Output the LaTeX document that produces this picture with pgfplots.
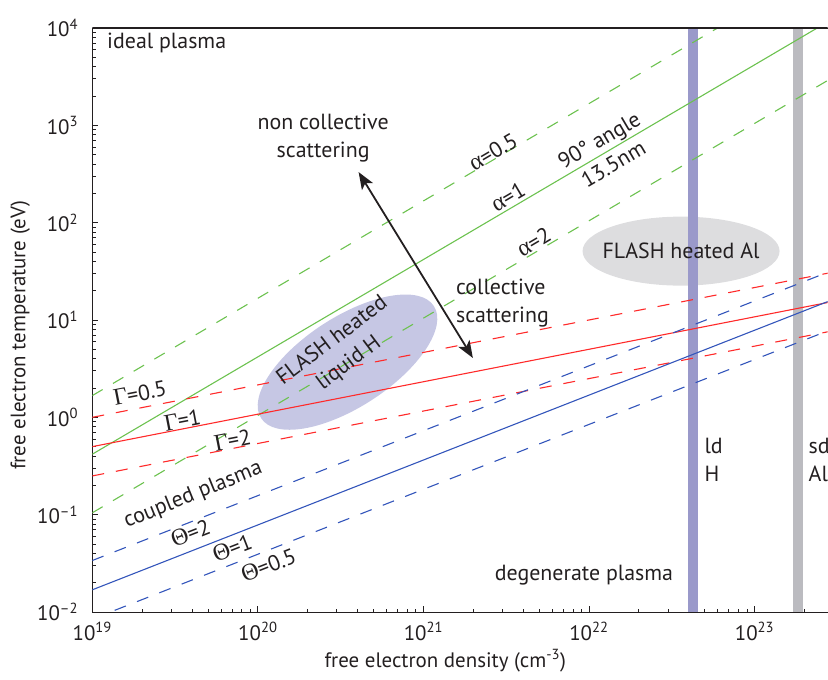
\documentclass[border=0pt]{standalone}
\usepackage{pgfplots}
\pgfplotsset{compat=1.18}
\usepackage{fontspec}
\setmainfont{PT Sans}
\newfontfamily\greekfont{Liberation Serif}
\usetikzlibrary{arrows.meta,shapes.geometric}
\definecolor{tx}{HTML}{231F20}
\definecolor{gr}{HTML}{6CC24F}
\definecolor{rd}{HTML}{FF2A2A}
\definecolor{bl}{HTML}{3355BB}
\definecolor{barH}{HTML}{9A99CA}
\definecolor{barAl}{HTML}{BBBBC0}
\definecolor{ellH}{HTML}{C6C7E4}
\definecolor{ellAl}{HTML}{DDDDDF}
\newcommand{\fs}{\fontsize{21}{27}\selectfont}
\newcommand{\fa}{\fontsize{22}{28}\selectfont}
\newcommand{\gk}[1]{{\greekfont\fontsize{24}{28}\selectfont #1}}
\begin{document}
\begin{tikzpicture}
\begin{axis}[
  at={(0,0)}, anchor=south west,
  scale only axis, width=735.2bp, height=584bp,
  xmode=log, ymode=log,
  xmin=1e19, xmax=2.76e23, ymin=1e-2, ymax=1e4,
  axis x line*=box, axis y line*=left,
  axis line style={tx, line width=0.9bp},
  xtick pos=bottom, ytick pos=left, tick align=inside,
  major tick length=6bp, minor tick length=3.5bp,
  every tick/.style={tx, line width=0.8bp},
  xtick={1e19,1e20,1e21,1e22,1e23},
  xticklabels={10\textsuperscript{19},10\textsuperscript{20},10\textsuperscript{21},10\textsuperscript{22},10\textsuperscript{23}},
  minor xtick={2e19,3e19,4e19,5e19,6e19,7e19,8e19,9e19,2e20,3e20,4e20,5e20,6e20,7e20,8e20,9e20,2e21,3e21,4e21,5e21,6e21,7e21,8e21,9e21,2e22,3e22,4e22,5e22,6e22,7e22,8e22,9e22,2e23},
  ytick={1e-2,1e-1,1,1e1,1e2,1e3,1e4},
  yticklabels={10\textsuperscript{\textendash2},10\textsuperscript{\textendash1},10\textsuperscript{0},10\textsuperscript{1},10\textsuperscript{2},10\textsuperscript{3},10\textsuperscript{4}},
  minor ytick={0.02,0.03,0.04,0.05,0.06,0.07,0.08,0.09,0.2,0.3,0.4,0.5,0.6,0.7,0.8,0.9,2,3,4,5,6,7,8,9,20,30,40,50,60,70,80,90,200,300,400,500,600,700,800,900,2000,3000,4000,5000,6000,7000,8000,9000},
  tick label style={font=\fs, text=tx},
  xticklabel style={anchor=north, inner sep=0pt, yshift=-10bp},
  yticklabel style={anchor=east, inner sep=0pt, xshift=-14bp},
  xlabel={free electron density (cm\textsuperscript{-3})},
  ylabel={free electron temperature (eV)},
  every axis x label/.style={at={(axis description cs:0.48,-0.083)}, anchor=center, font=\fs, text=tx},
  every axis y label/.style={at={(axis description cs:-0.098,0.474)}, rotate=90, anchor=center, font=\fs, text=tx},
  set layers,
]
\begin{pgfonlayer}{axis background}
\node[ellipse, fill=ellAl, minimum width=197bp, minimum height=69bp, inner sep=0pt] at (axis cs:3.6e22,51) {};
\node[ellipse, fill=ellH, minimum width=206bp, minimum height=90bp, inner sep=0pt, rotate=33] at (axis cs:3.48e20,3.69) {};
\end{pgfonlayer}
% density markers: liquid density H, solid density Al
\addplot[barH, line width=10bp] coordinates {(4.25e22,0.005) (4.25e22,2e4)};
\addplot[barAl, line width=10bp] coordinates {(1.82e23,0.005) (1.82e23,2e4)};
% scattering parameter alpha (90 deg, 13.5 nm)
\addplot[gr, line width=1.1bp, dash pattern=on 12bp off 12bp] coordinates {(1e19,1.672) (1e20,16.72) (1e21,167.2) (1e22,1672) (1e23,16720) (3e23,50160)};
\addplot[gr, line width=1.1bp] coordinates {(1e19,0.418) (1e20,4.18) (1e21,41.8) (1e22,418) (1e23,4180) (3e23,12540)};
\addplot[gr, line width=1.1bp, dash pattern=on 12bp off 12bp] coordinates {(1e19,0.1045) (1e20,1.045) (1e21,10.45) (1e22,104.5) (1e23,1045) (3e23,3135)};
% coupling parameter Gamma
\addplot[rd, line width=1.1bp, dash pattern=on 12bp off 12bp] coordinates {(1e19,1.0) (1e20,2.1544) (1e21,4.6416) (1e22,10) (1e23,21.544) (3e23,31.072)};
\addplot[rd, line width=1.1bp] coordinates {(1e19,0.5) (1e20,1.0772) (1e21,2.3208) (1e22,5.0) (1e23,10.772) (3e23,15.536)};
\addplot[rd, line width=1.1bp, dash pattern=on 12bp off 12bp] coordinates {(1e19,0.25) (1e20,0.5386) (1e21,1.1604) (1e22,2.5) (1e23,5.386) (3e23,7.768)};
% degeneracy parameter Theta
\addplot[bl, line width=1.1bp, dash pattern=on 12bp off 12bp] coordinates {(1e19,0.0338) (1e20,0.15689) (1e21,0.7282) (1e22,3.38) (1e23,15.689) (3e23,32.634)};
\addplot[bl, line width=1.1bp] coordinates {(1e19,0.0169) (1e20,0.07844) (1e21,0.3641) (1e22,1.69) (1e23,7.844) (3e23,16.317)};
\addplot[bl, line width=1.1bp, dash pattern=on 12bp off 12bp] coordinates {(1e19,0.00845) (1e20,0.03922) (1e21,0.18205) (1e22,0.845) (1e23,3.922) (3e23,8.158)};
% arrow
\draw[tx, line width=1.8bp, {Stealth[length=17bp,width=13bp,inset=4bp]}-{Stealth[length=17bp,width=13bp,inset=4bp]}] (axis cs:4.06e20,331) -- (axis cs:1.99e21,4.07);
% labels
\begin{scope}[every node/.style={font=\fa, text=tx, inner sep=0pt}]
\node[anchor=west] at (axis cs:1.227e19,7015) {ideal plasma};
\node[align=center] at (axis cs:2.48e20,741) {non collective\\scattering};
\node[align=left, anchor=west] at (axis cs:1.57e21,14.9) {collective\\scattering};
\node[rotate=30.5] at (axis cs:2.63e21,532) {\gk{α}=0.5};
\node[rotate=30.5] at (axis cs:3.24e21,183) {\gk{α}=1};
\node[rotate=30.5] at (axis cs:4.64e21,63) {\gk{α}=2};
\node[rotate=30.5, align=center] at (axis cs:1.27e22,532) {90° angle\\13.5nm};
\node at (axis cs:3.6e22,51) {FLASH heated Al};
\node[rotate=37, align=center] at (axis cs:3.17e20,4.68) {FLASH heated\\liquid H};
\node[rotate=11] at (axis cs:1.94e19,1.77) {\gk{Γ}=0.5};
\node[rotate=11] at (axis cs:3.5e19,0.935) {\gk{Γ}=1};
\node[rotate=11] at (axis cs:7.03e19,0.583) {\gk{Γ}=2};
\node[rotate=22] at (axis cs:4.07e19,0.158) {coupled plasma};
\node[rotate=21.4] at (axis cs:3.92e19,0.0645) {\gk{Θ}=2};
\node[rotate=21.4] at (axis cs:7.0e19,0.0453) {\gk{Θ}=1};
\node[rotate=21.4] at (axis cs:1.16e20,0.0303) {\gk{Θ}=0.5};
\node at (axis cs:9.33e21,0.0239) {degenerate plasma};
\node[align=left, anchor=west] at (axis cs:4.98e22,0.363) {ld\\H};
\node[align=left, anchor=west] at (axis cs:2.12e23,0.363) {sd\\Al};
\end{scope}
\draw[tx, line width=2.2bp] (rel axis cs:0,1) -- (rel axis cs:1,1);
\end{axis}
\pgfresetboundingbox
\useasboundingbox (-92.3bp,-68bp) rectangle (735.7bp,612bp);
\end{tikzpicture}
\end{document}
